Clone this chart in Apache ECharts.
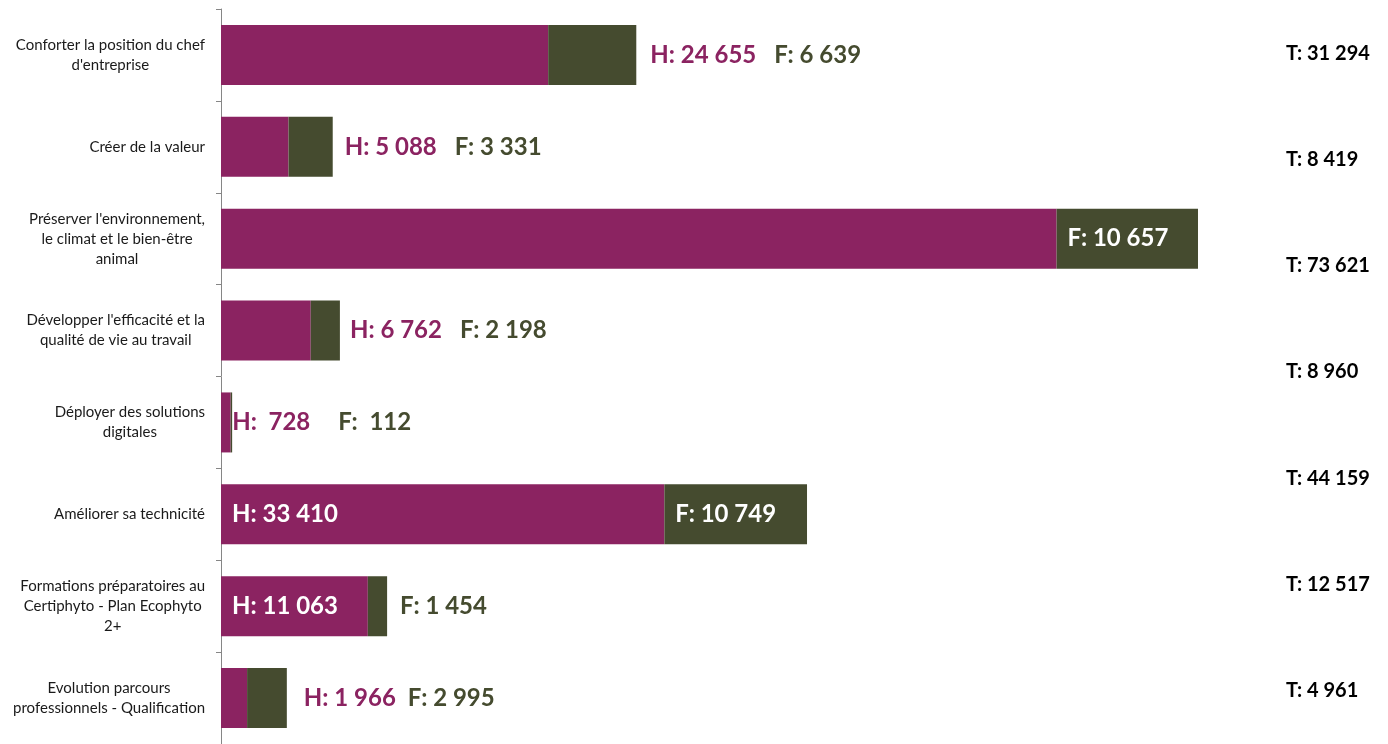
<!DOCTYPE html>
<html>
<head>
<meta charset="utf-8">
<script src="https://cdn.jsdelivr.net/npm/echarts@6/dist/echarts.min.js"></script>
<style>
  html, body { margin: 0; padding: 0; background: #fff; }
  #main { width: 1388px; height: 744px; }
</style>
</head>
<body>
<div id="main"></div>
<script>
const categories = [
    "Conforter la position du chef\nd'entreprise",
    "Créer de la valeur",
    "Préserver l'environnement,\nle climat et le bien-être\nanimal",
    "Développer l'efficacité et la\nqualité de vie au travail",
    "Déployer des solutions\ndigitales",
    "Améliorer sa technicité",
    "Formations préparatoires au\nCertiphyto - Plan Ecophyto\n2+",
    "Evolution parcours\nprofessionnels - Qualification"
];
const hommes = [24655, 5088, 62964, 6762, 728, 33410, 11063, 1966];
const femmes = [6639, 3331, 10657, 2198, 112, 10749, 1454, 2995];
// totals as printed on the right (none for "Déployer")
const totals = [31294, 8419, 73621, 8960, 44159, 12517, 4961];

// where the H/F labels sit for each bar
const labelModes = ['out', 'out', 'inF', 'out', 'out', 'in', 'inH', 'out'];
const outGap = [14, 12, 0, 10, 0, 0, 13, 17];
const hfGap = [18, 18, 0, 18, 28, 0, 0, 12];

const PURPLE = '#8B2361';
const OLIVE = '#454B2F';
const FONT = 'Lato';

// excel style "# ##0"
function fmt(v) {
    const s = String(v).replace(/\B(?=(\d{3})+(?!\d))/g, ' ');
    return v < 1000 ? ' ' + s : s;
}

const big = {fontSize: 24, fontWeight: 'bold', fontFamily: FONT};

const chart = echarts.init(document.getElementById('main'));

chart.setOption({
    animation: false,
    grid: [
        {left: 221, right: 39, top: 9, height: 738},
        {left: 1286, right: 0, top: 0, height: 752}
    ],
    xAxis: [
        {type: 'value', min: 0, max: 85000, show: false},
        {type: 'value', gridIndex: 1, show: false}
    ],
    yAxis: [
        {
            type: 'category',
            data: categories,
            inverse: true,
            axisLine: {lineStyle: {color: '#868686', width: 1}},
            axisTick: {show: true, length: 5, lineStyle: {color: '#868686'}},
            axisLabel: {
                margin: 16,
                align: 'right',
                fontSize: 15,
                fontFamily: FONT,
                color: '#1a1a1a',
                formatter: v => v.split('\n').map(l => '{c|' + l + '}').join('\n'),
                rich: {
                    c: {align: 'center', fontSize: 15, lineHeight: 20, fontFamily: FONT, color: '#1a1a1a'}
                }
            }
        },
        {
            type: 'category',
            gridIndex: 1,
            inverse: true,
            data: totals.map(t => 'T: ' + fmt(t)),
            axisLine: {show: false},
            axisTick: {show: false},
            axisLabel: {
                inside: true,
                margin: 0,
                color: '#000',
                fontSize: 20,
                fontWeight: 'bold',
                fontFamily: FONT
            }
        }
    ],
    series: [
        {
            name: 'H',
            type: 'bar',
            stack: 'tot',
            barWidth: 60,
            itemStyle: {color: PURPLE},
            label: {
                color: '#fff',
                ...big,
                formatter: p => 'H: ' + fmt(p.value)
            },
            data: hommes.map((v, i) => ({
                value: v,
                label: (labelModes[i] === 'in' || labelModes[i] === 'inH')
                    ? {show: true, position: 'insideLeft', distance: 11}
                    : {show: false}
            }))
        },
        {
            name: 'F',
            type: 'bar',
            stack: 'tot',
            barWidth: 60,
            itemStyle: {color: OLIVE},
            label: {
                show: true,
                ...big,
                formatter: p => {
                    const i = p.dataIndex;
                    const m = labelModes[i];
                    const f = 'F: ' + fmt(p.value);
                    if (m === 'out') return '{h|H: ' + fmt(hommes[i]) + '}{s' + i + '| }{f|' + f + '}';
                    if (m === 'inH') return '{f|' + f + '}';
                    return '{w|' + f + '}';
                },
                rich: Object.assign({
                    h: {color: PURPLE, ...big},
                    f: {color: OLIVE, ...big},
                    w: {color: '#fff', ...big}
                }, Object.fromEntries(hfGap.map((g, i) => ['s' + i, {width: g, ...big}])))
            },
            data: femmes.map((v, i) => {
                const m = labelModes[i];
                const outside = (m === 'out' || m === 'inH');
                return {
                    value: v,
                    label: outside
                        ? {position: 'right', distance: outGap[i]}
                        : {position: 'insideLeft', distance: 11}
                };
            })
        }
    ]
});
</script>
</body>
</html>
